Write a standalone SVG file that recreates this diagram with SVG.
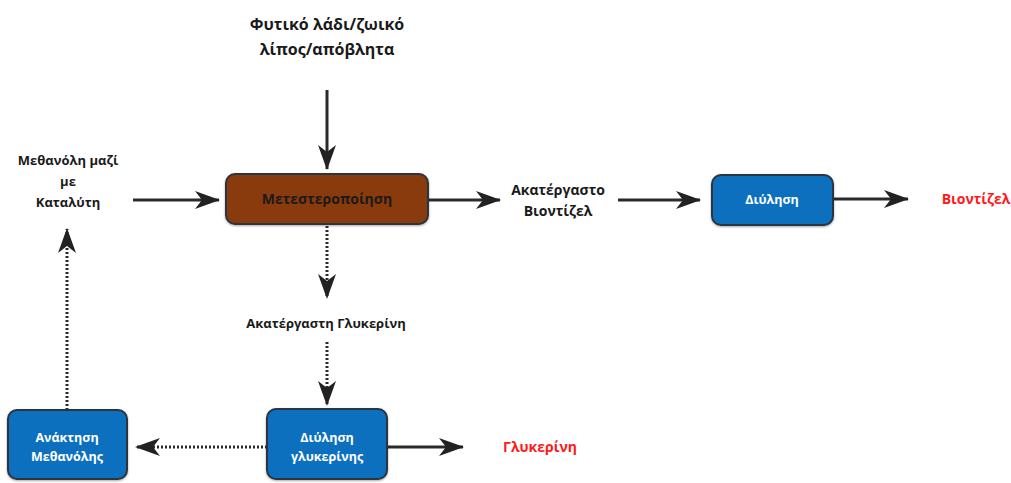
<svg xmlns="http://www.w3.org/2000/svg" width="1011" height="483" viewBox="0 0 1011 483">
<defs>
<marker id="ah" markerUnits="userSpaceOnUse" markerWidth="28" markerHeight="18" viewBox="0 0 26 18" refX="24" refY="9" orient="auto">
<path d="M0,0 L25,9 L0,18 L7,9 z" fill="#222"/>
</marker>
<filter id="sh" x="-10%" y="-10%" width="120%" height="130%">
<feDropShadow dx="0" dy="1" stdDeviation="1" flood-color="#000" flood-opacity="0.35"/>
</filter>
</defs>
<style>
text{font-family:"Open Sans","Noto Sans","DejaVu Sans",sans-serif;font-weight:bold;text-anchor:middle;}
.lbl{fill:#1a1a1a;font-size:13px;}
.lbl2{fill:#1a1a1a;font-size:14px;}
.top{fill:#1a1a1a;font-size:16px;}
.red{fill:#ff1a1a;font-size:14px;}
.wt{fill:#ffffff;font-size:12.5px;}
.box{stroke:#2b3440;stroke-width:2;filter:url(#sh);}
.blue{fill:#0a6fbf;}
.brown{fill:#8a3a08;}
.ln{stroke:#2a2a2a;stroke-width:3;fill:none;marker-end:url(#ah);}
.dot{stroke:#2a2a2a;stroke-width:3;fill:none;stroke-dasharray:2 2;marker-end:url(#ah);}
</style>
<rect width="1011" height="483" fill="#ffffff"/>
<g id="connectors">
<line class="ln" x1="327" y1="90" x2="327" y2="169"/>
<line class="ln" x1="133" y1="200" x2="219" y2="200"/>
<line class="ln" x1="428" y1="200" x2="500" y2="200"/>
<line class="ln" x1="618" y1="200" x2="700" y2="200"/>
<line class="ln" x1="833" y1="199" x2="908" y2="199"/>
<line class="dot" x1="327" y1="226" x2="327" y2="298"/>
<line class="dot" x1="327" y1="342" x2="327" y2="405"/>
<line class="ln" x1="387" y1="447" x2="463" y2="447"/>
<line class="dot" x1="267" y1="447" x2="136" y2="447"/>
<line class="dot" x1="67" y1="410" x2="67" y2="229"/>
</g>
<g id="input-oil">
<text class="top" x="327" y="30">Φυτικό λάδι/ζωικό</text>
<text class="top" x="327" y="55">λίπος/απόβλητα</text>
</g>
<g id="methanol-catalyst">
<text class="lbl" x="68" y="165">Μεθανόλη μαζί</text>
<text class="lbl" x="68" y="186">με</text>
<text class="lbl" x="68" y="207">Καταλύτη</text>
</g>
<g id="transesterification">
<rect class="box brown" x="226" y="174" width="202" height="50" rx="9"/>
<text class="lbl2" x="327" y="204">Μετεστεροποίηση</text>
</g>
<g id="crude-biodiesel">
<text class="lbl2" x="558" y="195">Ακατέργαστο</text>
<text class="lbl2" x="558" y="216">Βιοντίζελ</text>
</g>
<g id="refining">
<rect class="box blue" x="712" y="175" width="121" height="50" rx="9"/>
<text class="wt" x="772" y="204">Διύληση</text>
</g>
<g id="biodiesel">
<text class="red" x="976" y="204">Βιοντίζελ</text>
</g>
<g id="crude-glycerin">
<text class="lbl" x="326" y="328">Ακατέργαστη Γλυκερίνη</text>
</g>
<g id="glycerin-refining">
<rect class="box blue" x="267" y="409" width="120" height="70" rx="9"/>
<text class="wt" x="327" y="442">Διύληση</text>
<text class="wt" x="327" y="461">γλυκερίνης</text>
</g>
<g id="glycerin">
<text class="red" x="540" y="452">Γλυκερίνη</text>
</g>
<g id="methanol-recovery">
<rect class="box blue" x="8" y="410" width="119" height="69" rx="9"/>
<text class="wt" x="67" y="442">Ανάκτηση</text>
<text class="wt" x="67" y="461">Μεθανόλης</text>
</g>
</svg>
